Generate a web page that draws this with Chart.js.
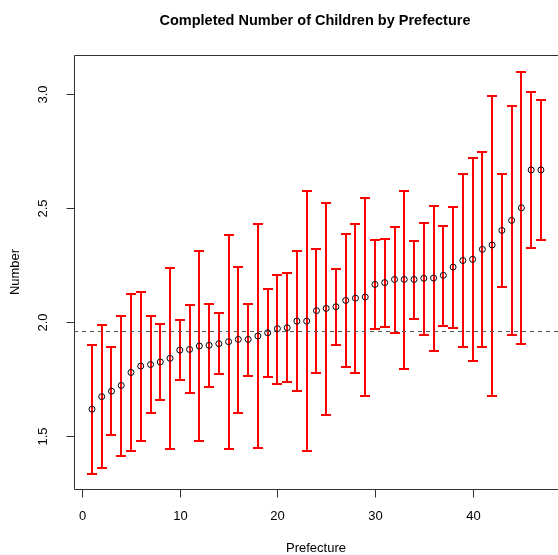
<!DOCTYPE html>
<html>
<head>
<meta charset="utf-8">
<script src="https://cdn.jsdelivr.net/npm/chart.js@4.4.1/dist/chart.umd.min.js"></script>
<style>
  body { margin: 0; background: #fff; }
  canvas { display: block; }
</style>
</head>
<body>
<canvas id="myChart" width="558" height="555"></canvas>
<script>
// prefectures 1..47 sorted by mean completed number of children
let prefecture = [];
for (let i = 1; i <= 47; i++) prefecture.push(i);

let meanVals = [1.618, 1.673, 1.697, 1.722, 1.779, 1.807, 1.814, 1.825, 1.841, 1.877,
  1.880, 1.895, 1.898, 1.905, 1.914, 1.924, 1.924, 1.939, 1.953, 1.971,
  1.975, 2.004, 2.004, 2.050, 2.060, 2.067, 2.095, 2.105, 2.110, 2.165,
  2.173, 2.187, 2.187, 2.187, 2.192, 2.193, 2.205, 2.241, 2.270, 2.275,
  2.319, 2.338, 2.402, 2.446, 2.501, 2.667, 2.667];

let upperVals = [1.899, 1.987, 1.892, 2.028, 2.121, 2.133, 2.028, 1.993, 2.238, 2.010,
  2.076, 2.311, 2.080, 2.041, 2.383, 2.243, 2.080, 2.431, 2.146, 2.208,
  2.213, 2.313, 2.576, 2.322, 2.523, 2.234, 2.387, 2.431, 2.542, 2.358,
  2.365, 2.418, 2.576, 2.357, 2.436, 2.510, 2.422, 2.506, 2.651, 2.721,
  2.747, 2.993, 2.651, 2.949, 3.098, 3.010, 2.975];

let lowerVals = [1.333, 1.361, 1.504, 1.412, 1.436, 1.480, 1.602, 1.658, 1.442, 1.747,
  1.687, 1.480, 1.716, 1.773, 1.444, 1.602, 1.765, 1.447, 1.760, 1.730,
  1.737, 1.699, 1.436, 1.778, 1.594, 1.899, 1.804, 1.778, 1.677, 1.971,
  1.977, 1.953, 1.794, 2.015, 1.944, 1.874, 1.984, 1.975, 1.892, 1.829,
  1.889, 1.677, 2.155, 1.944, 1.905, 2.326, 2.361];

let overallMean = 1.96;
let xTicks = [0, 10, 20, 30, 40];
let yTicks = [1.5, 2.0, 2.5, 3.0];

let points = prefecture.map((p, i) => ({ x: p, y: meanVals[i] }));

const FONT = '"Liberation Sans", Arial, Helvetica, sans-serif';

const rStyle = {
  id: 'rStyle',
  beforeDatasetsDraw(chart) {
    const ctx = chart.ctx;
    const xs = chart.scales.x, ys = chart.scales.y;
    const area = chart.chartArea;
    ctx.save();
    // error bars
    ctx.strokeStyle = '#ff0000';
    ctx.lineWidth = 2;
    for (let i = 0; i < prefecture.length; i++) {
      let px = Math.round(xs.getPixelForValue(prefecture[i]));
      let top = Math.round(ys.getPixelForValue(upperVals[i]));
      let bot = Math.round(ys.getPixelForValue(lowerVals[i]));
      ctx.beginPath();
      ctx.moveTo(px, top); ctx.lineTo(px, bot);
      ctx.moveTo(px - 5, top); ctx.lineTo(px + 5, top);
      ctx.moveTo(px - 5, bot); ctx.lineTo(px + 5, bot);
      ctx.stroke();
    }
    // overall mean line
    let my = Math.round(ys.getPixelForValue(overallMean)) + 0.5;
    ctx.strokeStyle = '#555';
    ctx.lineWidth = 1;
    ctx.setLineDash([4, 4]);
    ctx.beginPath();
    ctx.moveTo(area.left, my); ctx.lineTo(area.right + 5, my);
    ctx.stroke();
    ctx.restore();
  },
  afterDraw(chart) {
    const ctx = chart.ctx;
    const xs = chart.scales.x, ys = chart.scales.y;
    const area = chart.chartArea;
    ctx.save();
    ctx.strokeStyle = '#333';
    ctx.lineWidth = 1;
    let l = Math.round(area.left) + 0.5;
    let t = Math.round(area.top) + 0.5;
    let b = Math.round(area.bottom) + 0.5;
    ctx.beginPath();
    ctx.moveTo(area.right + 5, t); ctx.lineTo(l, t); ctx.lineTo(l, b); ctx.lineTo(area.right + 5, b);
    ctx.stroke();

    ctx.fillStyle = '#000';
    ctx.font = '13px ' + FONT;
    ctx.textAlign = 'center';
    ctx.textBaseline = 'middle';
    // x ticks
    xTicks.forEach(v => {
      let px = Math.round(xs.getPixelForValue(v)) + 0.5;
      ctx.beginPath(); ctx.moveTo(px, b); ctx.lineTo(px, b + 8); ctx.stroke();
      ctx.fillText(String(v), px, 516);
    });
    // y ticks
    yTicks.forEach(v => {
      let py = Math.round(ys.getPixelForValue(v)) + 0.5;
      ctx.beginPath(); ctx.moveTo(l, py); ctx.lineTo(l - 8, py); ctx.stroke();
      ctx.save();
      ctx.translate(43, py);
      ctx.rotate(-Math.PI / 2);
      ctx.fillText(v.toFixed(1), 0, 0);
      ctx.restore();
    });
    // axis titles
    ctx.fillText('Prefecture', 316, 548);
    ctx.save();
    ctx.translate(15, 272);
    ctx.rotate(-Math.PI / 2);
    ctx.fillText('Number', 0, 0);
    ctx.restore();
    // main title
    ctx.font = 'bold 14.5px ' + FONT;
    ctx.fillText('Completed Number of Children by Prefecture', 315, 21);
    ctx.restore();
  }
};

var ctx = document.getElementById('myChart').getContext('2d');
var myChart = new Chart(ctx, {
  type: 'scatter',
  data: {
    datasets: [{
      data: points,
      pointStyle: 'circle',
      pointRadius: 3,
      pointBorderWidth: 1,
      pointBorderColor: '#000',
      pointBackgroundColor: 'rgba(0,0,0,0)',
      pointHoverRadius: 3
    }]
  },
  options: {
    responsive: false,
    animation: false,
    layout: { autoPadding: false, padding: { left: 74, top: 55, right: 0, bottom: 66 } },
    plugins: { legend: { display: false }, tooltip: { enabled: false } },
    scales: {
      x: { type: 'linear', display: false, min: -0.84, max: 48.75 },
      y: { type: 'linear', display: false, min: 1.268, max: 3.171 }
    }
  },
  plugins: [rStyle]
});
</script>
</body>
</html>
